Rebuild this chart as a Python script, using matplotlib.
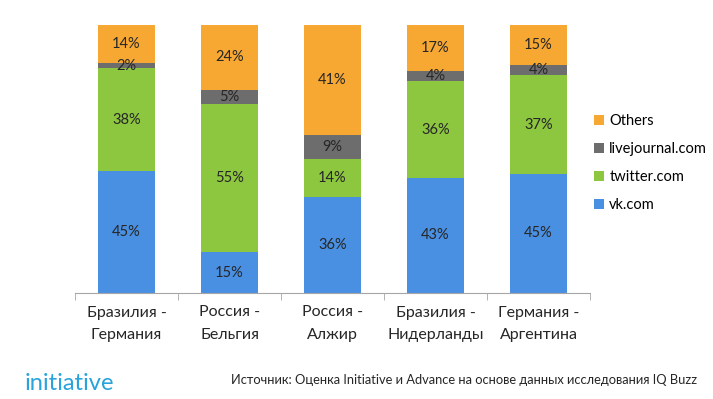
import matplotlib.pyplot as plt
import numpy as np

plt.rcParams["font.family"] = ["Lato", "DejaVu Sans"]

categories = ["Бразилия -\nГермания", "Россия -\nБельгия", "Россия -\nАлжир",
              "Бразилия -\nНидерланды", "Германия -\nАргентина"]
series_names = ["vk.com", "twitter.com", "livejournal.com", "Others"]
vk = [45, 15, 36, 43, 45]
twitter = [38, 55, 14, 36, 37]
livejournal = [2, 5, 9, 4, 4]
others = [14, 24, 41, 17, 15]
colors = ["#4a90e2", "#8dc63f", "#6d6d6d", "#f7a833"]

data = np.array([vk, twitter, livejournal, others], dtype=float)
shares = data / data.sum(axis=0) * 100  # 100% stacked

fig = plt.figure(figsize=(7.13, 3.99), dpi=100)
ax = fig.add_axes([75 / 713, 106 / 399, 515 / 713, 268 / 399])

x = np.arange(len(categories))
bottom = np.zeros(len(categories))
handles = []
for i, name in enumerate(series_names):
    bars = ax.bar(x, shares[i], 0.55, bottom=bottom, color=colors[i], label=name)
    handles.append(bars)
    for j in range(len(categories)):
        ax.text(x[j], bottom[j] + shares[i][j] / 2, f"{int(data[i][j])}%",
                ha="center", va="center", fontsize=10.5, color="#262626")
    bottom += shares[i]

ax.set_xlim(-0.5, len(categories) - 0.5)
ax.set_ylim(0, 100)
ax.set_yticks([])
ax.set_xticks(np.arange(len(categories) + 1) - 0.5, minor=True)
ax.set_xticks(x)
ax.set_xticklabels(categories, fontsize=11.5, color="#262626", linespacing=1.75)
ax.tick_params(axis="x", which="major", length=0, pad=9)
ax.tick_params(axis="x", which="minor", length=5, color="#a6a6a6")
for s in ["left", "right", "top"]:
    ax.spines[s].set_visible(False)
ax.spines["bottom"].set_color("#a6a6a6")

fig.legend(handles[::-1], series_names[::-1], loc="center left",
           bbox_to_anchor=(594 / 713, 1 - 163 / 399), frameon=False, fontsize=10.5,
           borderaxespad=0, borderpad=0,
           handlelength=0.7, handleheight=0.7, handletextpad=0.35, labelspacing=0.95)

fig.text(25 / 713, 1 - 384 / 399, "initiative", fontsize=17, color="#29a3dc",
         va="center", ha="left")
fig.text(697 / 713, 1 - 380 / 399,
         "Источник: Оценка Initiative и Advance на основе данных исследования IQ Buzz",
         fontsize=9.3, color="#262626", va="center", ha="right")

plt.savefig("out.png", dpi=100, facecolor="white")
plt.close(fig)
